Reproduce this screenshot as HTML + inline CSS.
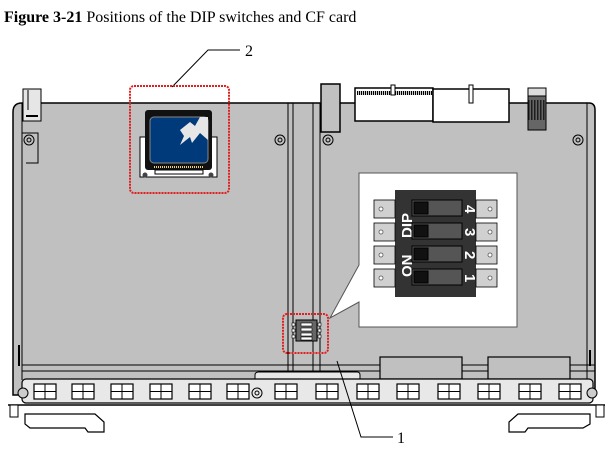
<!DOCTYPE html>
<html><head><meta charset="utf-8"><style>
html,body{margin:0;padding:0;background:#fff;}
svg{display:block;}
</style></head><body>
<svg width="613" height="467" viewBox="0 0 613 467" xmlns="http://www.w3.org/2000/svg">
<text x="4" y="22" font-family="Liberation Serif, serif" font-size="16" fill="#000"><tspan font-weight="bold">Figure 3-21</tspan> Positions of the DIP switches and CF card</text>
<polyline points="172,87 208,50 240,50" fill="none" stroke="#000" stroke-width="1"/>
<text x="245" y="56" font-family="Liberation Serif, serif" font-size="16">2</text>

<path d="M13,112 Q13,103 22,103 L589,103 Q595,103 595,110 L595,395 L13,395 Z" fill="#c0c0c0" stroke="#000" stroke-width="1.5"/>
<line x1="22" y1="103" x2="22" y2="380" stroke="#000" stroke-width="1"/>
<line x1="587" y1="103" x2="587" y2="380" stroke="#000" stroke-width="1"/>
<path d="M22,133 L38,133 L38,163 L26,163" fill="none" stroke="#000"/>
<line x1="22" y1="365" x2="595" y2="365" stroke="#000"/>
<line x1="22" y1="371" x2="595" y2="371" stroke="#000"/>
<line x1="19" y1="345" x2="19" y2="366" stroke="#000" stroke-width="2"/>
<line x1="590" y1="350" x2="590" y2="366" stroke="#000" stroke-width="2"/>
<g stroke="#000" stroke-width="1">
<line x1="288" y1="103" x2="288" y2="375"/><line x1="293" y1="103" x2="293" y2="375"/>
<line x1="313" y1="103" x2="313" y2="375"/><line x1="320" y1="103" x2="320" y2="375"/>
</g>
<rect x="23" y="89" width="18" height="32" fill="#e6e6e6" stroke="#000"/>
<rect x="26" y="115" width="12" height="2" fill="#000"/>
<line x1="28" y1="90" x2="28" y2="110" stroke="#000"/>
<rect x="321" y="84" width="19" height="48" fill="#c0c0c0" stroke="#000" stroke-width="1.5"/>
<rect x="355" y="88" width="78" height="33" fill="#fff" stroke="#000" stroke-width="1.5"/>
<rect x="433" y="89" width="76" height="33" fill="#fff" stroke="#000" stroke-width="1.5"/>
<line x1="357" y1="93" x2="432" y2="93" stroke="#000" stroke-width="4" stroke-dasharray="1.2 0.8"/>
<rect x="391" y="85" width="4" height="10" fill="#fff" stroke="#000"/>
<rect x="469" y="85" width="4" height="18" fill="#fff" stroke="#000"/>
<rect x="528" y="90" width="18" height="40" fill="#666" stroke="#000"/>
<line x1="528" y1="110" x2="546" y2="110" stroke="#000" stroke-width="20" stroke-dasharray="1.5 1.5" opacity="0.7"/>
<rect x="528" y="88" width="18" height="8" fill="#ddd" stroke="#000"/>
<g fill="#c0c0c0" stroke="#000">
<circle cx="29" cy="140" r="5"/><circle cx="29" cy="140" r="2"/>
<circle cx="280" cy="140" r="5"/><circle cx="280" cy="140" r="2"/>
<circle cx="328" cy="140" r="5"/><circle cx="328" cy="140" r="2"/>
<circle cx="578" cy="140" r="5"/><circle cx="578" cy="140" r="2"/>
</g>
<rect x="140" y="137" width="77" height="40" fill="#fff" stroke="#000"/>
<rect x="145" y="110" width="67" height="60" rx="3" fill="#111"/>
<rect x="150" y="117" width="58" height="46" rx="4" fill="#003a7a" stroke="#888"/>
<polygon points="180,130 190,122 195,126 200,117 208,117 208,140 200,133 192,143 190,137 180,145 184,136" fill="#e6e6e6"/>
<line x1="154" y1="167" x2="204" y2="167" stroke="#e8d080" stroke-width="2" stroke-dasharray="1 1"/>
<rect x="155" y="170" width="48" height="4" fill="#fff" stroke="#000"/>
<circle cx="145" cy="175" r="2.5" fill="#444"/><circle cx="211" cy="175" r="2.5" fill="#444"/>
<rect x="130" y="86" width="99" height="107" rx="4" fill="none" stroke="#e02020" stroke-width="2" stroke-dasharray="2 1"/>

<rect x="296" y="320" width="21" height="21" fill="#666" stroke="#000"/>
<g fill="#fff" stroke="#000" stroke-width="0.6">
<rect x="301" y="323" width="11" height="3"/><rect x="301" y="328" width="11" height="3"/><rect x="301" y="333" width="11" height="3"/><rect x="301" y="337" width="11" height="3"/>
<rect x="292" y="323" width="3" height="3"/><rect x="292" y="329" width="3" height="3"/><rect x="292" y="335" width="3" height="3"/>
<rect x="318" y="323" width="3" height="3"/><rect x="318" y="329" width="3" height="3"/><rect x="318" y="335" width="3" height="3"/>
</g>
<rect x="283" y="314" width="45" height="39" rx="4" fill="none" stroke="#e02020" stroke-width="2" stroke-dasharray="2 1"/>

<polygon points="359,173 517,173 517,327 359,327 359,302 330,318 359,265" fill="#fff" stroke="#555" stroke-width="1"/>
<rect x="395" y="190" width="81" height="107" fill="#333"/>
<g font-family="Liberation Sans, sans-serif" font-weight="bold" fill="#fff" font-size="15">
<text transform="translate(412,238) rotate(-90)">DIP</text>
<text transform="translate(412,277) rotate(-90)">ON</text>
<text transform="translate(465,205) rotate(90)">4</text>
<text transform="translate(465,228) rotate(90)">3</text>
<text transform="translate(465,251) rotate(90)">2</text>
<text transform="translate(465,274) rotate(90)">1</text>
</g>
<g stroke="#000" stroke-width="1">
<rect x="412" y="200" width="50" height="16" fill="#555"/><rect x="414" y="202" width="14" height="12" fill="#111"/>
<rect x="412" y="223" width="50" height="16" fill="#555"/><rect x="414" y="225" width="14" height="12" fill="#111"/>
<rect x="412" y="246" width="50" height="16" fill="#555"/><rect x="414" y="248" width="14" height="12" fill="#111"/>
<rect x="412" y="269" width="50" height="16" fill="#555"/><rect x="414" y="271" width="14" height="12" fill="#111"/>
</g>
<g fill="#d0d0d0" stroke="#000" stroke-width="0.8">
<rect x="374" y="200" width="21" height="18"/><rect x="374" y="223" width="21" height="18"/><rect x="374" y="246" width="21" height="18"/><rect x="374" y="269" width="21" height="18"/>
<rect x="476" y="200" width="21" height="18"/><rect x="476" y="223" width="21" height="18"/><rect x="476" y="246" width="21" height="18"/><rect x="476" y="269" width="21" height="18"/>
</g>
<g fill="#fff" stroke="#555" stroke-width="0.8">
<circle cx="381" cy="209" r="2"/><circle cx="381" cy="232" r="2"/><circle cx="381" cy="255" r="2"/><circle cx="381" cy="278" r="2"/>
<circle cx="490" cy="209" r="2"/><circle cx="490" cy="232" r="2"/><circle cx="490" cy="255" r="2"/><circle cx="490" cy="278" r="2"/>
</g>

<rect x="380" y="357" width="82" height="22" fill="#c0c0c0" stroke="#000" stroke-width="1.2"/>
<rect x="488" y="357" width="82" height="22" fill="#c0c0c0" stroke="#000" stroke-width="1.2"/>

<path d="M255,379 L255,375 Q255,372 259,372 L357,372 Q360,372 360,375 L360,379 Z" fill="#e8e8e8" stroke="#000"/>
<rect x="22" y="379" width="571" height="24" rx="4" fill="#e8e8e8" stroke="#000" stroke-width="1.2"/>
<line x1="8" y1="405" x2="605" y2="405" stroke="#000" stroke-width="1.5"/>
<g fill="#fff" stroke="#000" stroke-width="1.2">
<rect x="34" y="384" width="22" height="15"/><rect x="72" y="384" width="22" height="15"/><rect x="111" y="384" width="22" height="15"/><rect x="150" y="384" width="22" height="15"/><rect x="189" y="384" width="22" height="15"/><rect x="227" y="384" width="22" height="15"/>
<rect x="275" y="384" width="22" height="15"/><rect x="316" y="384" width="22" height="15"/><rect x="357" y="384" width="22" height="15"/><rect x="397" y="384" width="22" height="15"/><rect x="438" y="384" width="22" height="15"/><rect x="478" y="384" width="22" height="15"/><rect x="519" y="384" width="22" height="15"/><rect x="559" y="384" width="22" height="15"/>
</g>
<g stroke="#000" stroke-width="1">
<path d="M34,391.5h22M45,384v15M72,391.5h22M83,384v15M111,391.5h22M122,384v15M150,391.5h22M161,384v15M189,391.5h22M200,384v15M227,391.5h22M238,384v15M275,391.5h22M286,384v15M316,391.5h22M327,384v15M357,391.5h22M368,384v15M397,391.5h22M408,384v15M438,391.5h22M449,384v15M478,391.5h22M489,384v15M519,391.5h22M530,384v15M559,391.5h22M570,384v15"/>
</g>
<circle cx="257" cy="393" r="5" fill="#e8e8e8" stroke="#000"/><circle cx="257" cy="393" r="2" fill="none" stroke="#000"/>
<circle cx="23" cy="393" r="5" fill="#ccc" stroke="#000"/><circle cx="592" cy="393" r="5" fill="#ccc" stroke="#000"/>
<path d="M25,414 L95,414 L104,422 L104,432 L88,432 L85,428 L30,428 L25,424 Z" fill="#fff" stroke="#000" stroke-width="1.2"/>
<path d="M590,414 L518,414 L509,422 L509,432 L525,432 L528,428 L583,428 L590,424 Z" fill="#fff" stroke="#000" stroke-width="1.2"/>
<rect x="10" y="405" width="8" height="12" fill="#fff" stroke="#000"/><rect x="596" y="405" width="8" height="12" fill="#fff" stroke="#000"/>

<polyline points="337,361 361,437 393,437" fill="none" stroke="#000" stroke-width="1"/>
<text x="397" y="443" font-family="Liberation Serif, serif" font-size="16">1</text>
</svg>
</body></html>
